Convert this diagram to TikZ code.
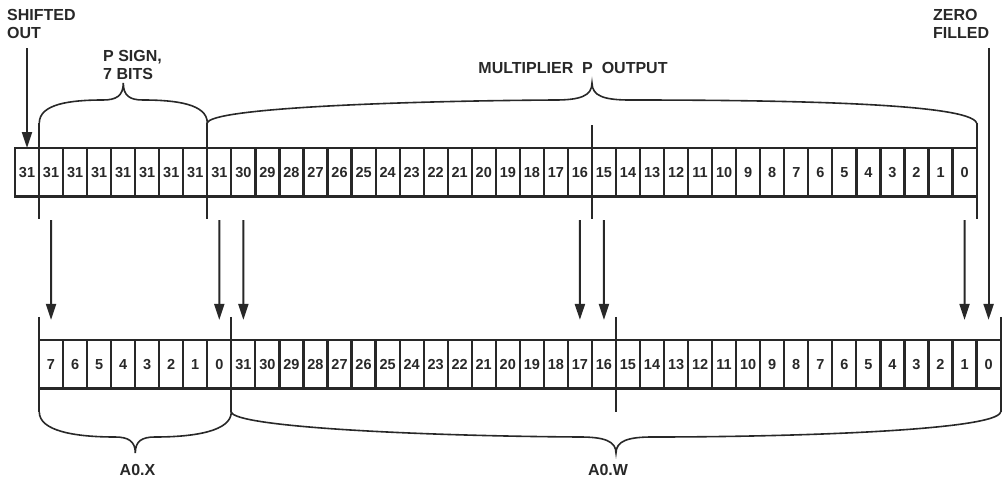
\documentclass[tikz,border=0pt]{standalone}
\usepackage{fontspec}
\setmainfont{Liberation Sans}
\usetikzlibrary{arrows.meta}
\definecolor{ink}{RGB}{40,40,40}
\begin{document}
\begin{tikzpicture}[x=1pt,y=-1pt,
  cellbox/.style={draw=ink, line width=2.2pt, minimum width=24.04pt, minimum height=48.5pt, inner sep=0pt, outer sep=0pt, font=\bfseries\fontsize{14.5}{16}\selectfont, text=ink},
  lbl/.style={inner sep=0pt, font=\bfseries\fontsize{16}{18}\selectfont, text=ink, align=left},
  arr/.style={draw=ink, line width=2pt, -{Triangle[length=16pt,width=10pt]}},
  guide/.style={draw=ink, line width=2pt},
  brc/.style={draw=ink, line width=1.6pt},
]
\useasboundingbox (0,0) rectangle (1004,482);
% top register row
\foreach \i in {0,...,39} {
  \pgfmathtruncatemacro\v{min(31,39-\i)}
  \node[cellbox] (t\i) at ({15+24.04*(\i+0.5)},172.25) {\v};
}
% bottom register row
\foreach \i in {0,...,39} {
  \pgfmathtruncatemacro\v{\i<8 ? 7-\i : 39-\i}
  \node[cellbox] (b\i) at ({39+24.04*(\i+0.5)},364.15) {\v};
}
% guide lines, top
\draw[guide] ([yshift=25pt]t1.north west) -- ([yshift=-22.5pt]t1.south west);
\draw[guide] ([yshift=25pt]t8.north west) -- ([yshift=-22.5pt]t8.south west);
\draw[guide] ([yshift=23pt]t24.north west) -- ([yshift=-22.5pt]t24.south west);
\draw[guide] ([yshift=25pt]t39.north east) -- ([yshift=-22.5pt]t39.south east);
% guide lines, bottom
\draw[guide] ([yshift=23pt]b0.north west) -- ([yshift=-24pt]b0.south west);
\draw[guide] ([yshift=23pt]b8.north west) -- ([yshift=-24pt]b8.south west);
\draw[guide] ([yshift=23pt]b24.north west) -- ([yshift=-24pt]b24.south west);
\draw[guide] ([yshift=23pt]b39.north east) -- ([yshift=-24pt]b39.south east);
% braces, top
\draw[brc] (39.3,123) .. controls (39.3,104) and (70,100) .. (103,100) .. controls (116,100) and (123.3,96) .. (123.3,83)
  .. controls (123.3,96) and (130,100) .. (143,100) .. controls (176,100) and (207.3,104) .. (207.3,123);
\draw[brc] (207.3,123) .. controls (210,108) and (400,101) .. (555,100) .. controls (580,100) and (592,96) .. (592,83)
  .. controls (592,96) and (604,100) .. (630,100) .. controls (780,100) and (970,103) .. (976.6,123);
% braces, bottom
\draw[brc] (39.3,412) .. controls (39.3,431) and (75,437) .. (115,437) .. controls (128,437) and (135.3,441) .. (135.3,453)
  .. controls (135.3,441) and (142,437) .. (155,437) .. controls (195,437) and (231.3,431) .. (231.3,412);
\draw[brc] (231.3,412) .. controls (234,427) and (420,436) .. (580,437) .. controls (604,437) and (616,441) .. (616,453)
  .. controls (616,441) and (628,437) .. (652,437) .. controls (800,437) and (997,430) .. (1000.6,412);
% arrows
\foreach \a/\b in {1/0, 8/7, 9/8, 23/22, 24/23, 39/38} {
  \draw[arr, shorten <=23.5pt, shorten >=20pt] (t\a.south) -- (b\b.north);
}
\path (t0.north) ++(0,-100) coordinate (so);
\draw[arr] (so) -- (t0.north);
\path (b39.north) ++(0,-292) coordinate (zf);
\draw[arr, shorten >=20pt] (zf) -- (b39.north);
% labels
\node[lbl, anchor=north west] (lso) at (7,9) {SHIFTED\\OUT};
\node[lbl, anchor=north west] (lzf) at (933,9) {ZERO\\FILLED};
\node[lbl, anchor=north west] (lps) at (103,50) {P SIGN,\\7 BITS};
\node[lbl, anchor=north] (lmp) at (573,62) {MULTIPLIER~~P~~OUTPUT};
\node[lbl, anchor=north] (lax) at (137.5,464) {A0.X};
\node[lbl, anchor=north] (law) at (608,464) {A0.W};
\end{tikzpicture}
\end{document}
